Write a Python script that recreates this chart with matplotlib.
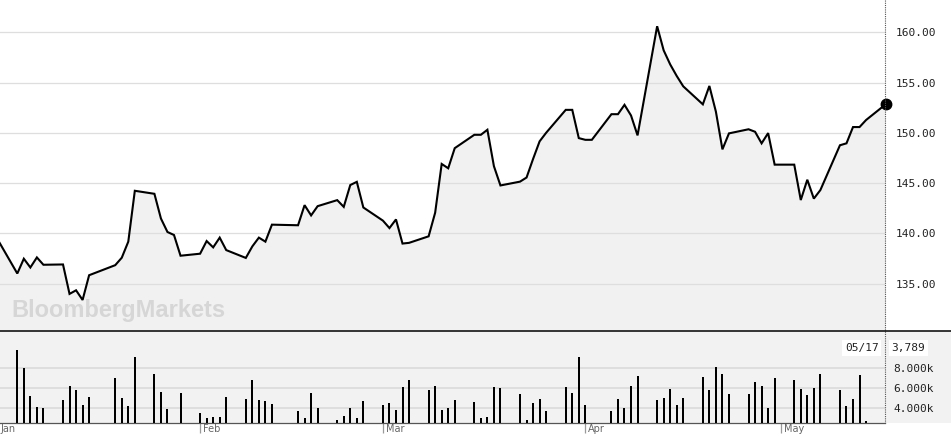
import matplotlib
matplotlib.use("Agg")
import matplotlib.pyplot as plt
import matplotlib.dates as mdates
import matplotlib.transforms as mtransforms
from matplotlib.lines import Line2D
from matplotlib.patches import Rectangle
import numpy as np

# ---------------- data ----------------
dates = [
    "2020-12-31",
    "2021-01-04", "2021-01-05", "2021-01-06", "2021-01-07", "2021-01-08",
    "2021-01-11", "2021-01-12", "2021-01-13", "2021-01-14", "2021-01-15",
    "2021-01-19", "2021-01-20", "2021-01-21", "2021-01-22",
    "2021-01-25", "2021-01-26", "2021-01-27", "2021-01-28", "2021-01-29",
    "2021-02-01", "2021-02-02", "2021-02-03", "2021-02-04", "2021-02-05",
    "2021-02-08", "2021-02-09", "2021-02-10", "2021-02-11", "2021-02-12",
    "2021-02-16", "2021-02-17", "2021-02-18", "2021-02-19",
    "2021-02-22", "2021-02-23", "2021-02-24", "2021-02-25", "2021-02-26",
    "2021-03-01", "2021-03-02", "2021-03-03", "2021-03-04", "2021-03-05",
    "2021-03-08", "2021-03-09", "2021-03-10", "2021-03-11", "2021-03-12",
    "2021-03-15", "2021-03-16", "2021-03-17", "2021-03-18", "2021-03-19",
    "2021-03-22", "2021-03-23", "2021-03-24", "2021-03-25", "2021-03-26",
    "2021-03-29", "2021-03-30", "2021-03-31", "2021-04-01", "2021-04-02",
    "2021-04-05", "2021-04-06", "2021-04-07", "2021-04-08", "2021-04-09",
    "2021-04-12", "2021-04-13", "2021-04-14", "2021-04-15", "2021-04-16",
    "2021-04-19", "2021-04-20", "2021-04-21", "2021-04-22", "2021-04-23",
    "2021-04-26", "2021-04-27", "2021-04-28", "2021-04-29", "2021-04-30",
    "2021-05-03", "2021-05-04", "2021-05-05", "2021-05-06", "2021-05-07",
    "2021-05-10", "2021-05-11", "2021-05-12", "2021-05-13", "2021-05-14",
    "2021-05-17",
]

prices = [
    140.5,
    136.00, 137.47, 136.60, 137.60, 136.87,
    136.90, 133.97, 134.33, 133.37, 135.83,
    136.83, 137.57, 139.17, 144.23,
    143.93, 141.47, 140.13, 139.83, 137.77,
    137.97, 139.23, 138.60, 139.57, 138.33,
    137.55, 138.70, 139.57, 139.17, 140.86,
    140.80, 142.80, 141.78, 142.70,
    143.30, 142.63, 144.80, 145.12, 142.57,
    141.26, 140.52, 141.38, 138.98, 139.05,
    139.70, 142.05, 146.90, 146.47, 148.47,
    149.80, 149.80, 150.30, 146.68, 144.76,
    145.14, 145.55, 147.40, 149.15, 150.00,
    152.28, 152.28, 149.47, 149.30, 149.30,
    151.85, 151.85, 152.78, 151.72, 149.74,
    160.60, 158.20, 156.80, 155.65, 154.62,
    152.83, 154.66, 152.10, 148.35, 149.94,
    150.35, 150.10, 148.95, 149.97, 146.83,
    146.83, 143.31, 145.33, 143.45, 144.30,
    148.76, 148.95, 150.57, 150.57, 151.27,
    152.83,
]

nan = float("nan")
volumes = [
    nan,
    9740, 7930, 5180, 4160, 4030,
    4820, 6200, 5840, 4300, 5110,
    7020, 5020, 4200, 9020,
    7410, 5640, 3900, nan, 5510,
    3540, 3080, 3110, 3110, 5080,
    4890, 6790, 4790, 4750, 4460,
    3740, 3020, 5480, 4000,
    2850, 3210, 4030, 3050, 4720,
    4330, 4490, 3840, 6070, 6750,
    5770, 6200, 3840, 4000, 4790,
    4590, 3080, 3150, 6070, 6000,
    5410, 2850, 4490, 4890, 3740,
    6130, 5480, 9050, 4330, nan,
    3770, 4890, 4000, 6160, 7150,
    4790, 5020, 5900, 4330, 4980,
    7110, 5840, 8100, 7410, 5410,
    5380, 6620, 6230, 4000, 6950,
    6750, 5930, 5310, 5970, 7340,
    5800, 4260, 4920, 7280, 2790,
    3789,
]

month_starts = ["2021-01-01", "2021-02-01", "2021-03-01", "2021-04-01", "2021-05-01"]
month_labels = ["Jan", "Feb", "Mar", "Apr", "May"]
price_ticks = [135, 140, 145, 150, 155, 160]
volume_ticks = [4000, 6000, 8000]

# ---------------- figure ----------------
W, H = 951, 436
DPI = 100
fig = plt.figure(figsize=(W / DPI, H / DPI), dpi=DPI)
fig.patch.set_facecolor("white")

def fx(px):
    return px / W

def fy(py):
    return 1 - py / H

plot_right = 885
price_bottom = 330
vol_top, vol_bottom = 331, 422.7

ax_p = fig.add_axes([0, fy(price_bottom), fx(plot_right), price_bottom / H])
ax_v = fig.add_axes([0, fy(vol_bottom), fx(plot_right), (vol_bottom - vol_top) / H])

x = mdates.datestr2num(dates)
xm = mdates.datestr2num(month_starts)
xl = (x[1] - 2.65, x[-1] - 0.1)

# volume panel background across full width
fig.add_artist(Rectangle((0, fy(vol_bottom)), 1, (vol_bottom - vol_top) / H,
                         transform=fig.transFigure, facecolor="#f2f2f2",
                         edgecolor="none", zorder=-5))

# ---- price panel ----
p_lo, p_hi = 130.38, 163.21
ax_p.set_xlim(*xl)
ax_p.set_ylim(p_lo, p_hi)
ax_p.set_facecolor("white")
ax_p.fill_between(x, prices, p_lo, color="#f1f1f1", lw=0, zorder=1)
for t in price_ticks:
    ax_p.axhline(t, color="#dedede", lw=0.9, zorder=2)
ax_p.plot(x, prices, color="black", lw=1.5, zorder=4, solid_joinstyle="miter")
ax_p.plot([x[-1]], [prices[-1]], "o", color="black", ms=7.5, zorder=5, clip_on=False)
ax_p.text(0.0125, 0.038, "BloombergMarkets", transform=ax_p.transAxes,
          fontsize=17, fontweight="bold", family="Liberation Sans",
          color="#d6d6d6", ha="left", va="baseline", zorder=3)
for s in ax_p.spines.values():
    s.set_visible(False)
ax_p.set_xticks([])
ax_p.yaxis.tick_right()
ax_p.set_yticks(price_ticks)
ax_p.set_yticklabels([f"{t:.2f}" for t in price_ticks])
ax_p.tick_params(axis="y", length=0, pad=8, labelsize=8, labelcolor="#222222")
for lab in ax_p.get_yticklabels():
    lab.set_family("DejaVu Sans Mono")

# ---- volume panel ----
v_lo, v_hi = 2581, 11616
ax_v.set_xlim(*xl)
ax_v.set_ylim(v_lo, v_hi)
ax_v.set_facecolor("#f2f2f2")
for t in volume_ticks:
    ax_v.axhline(t, color="#dcdcdc", lw=1.3, zorder=1)
ax_v.vlines(x, 0, volumes, colors="black", linewidth=1.44, antialiased=False, zorder=3)
for name, s in ax_v.spines.items():
    s.set_visible(name == "bottom")
ax_v.spines["bottom"].set_color("#555555")
ax_v.spines["bottom"].set_linewidth(0.9)
ax_v.yaxis.tick_right()
ax_v.set_yticks(volume_ticks)
ax_v.set_yticklabels([f"{t/1000:.3f}k" for t in volume_ticks])
ax_v.tick_params(axis="y", length=0, pad=6, labelsize=8, labelcolor="#222222")
for lab in ax_v.get_yticklabels():
    lab.set_family("DejaVu Sans Mono")
ax_v.set_xticks(xm[xm > xl[0]])
ax_v.set_xticklabels([])
ax_v.tick_params(axis="x", direction="out", length=7, width=0.9, color="#9a9a9a")

lab_tr = mtransforms.offset_copy(ax_v.get_xaxis_transform(), fig=fig, x=3, y=-9.5, units="dots")
for m, lab in zip(xm, month_labels):
    ax_v.text(m, 0, lab, transform=lab_tr, fontsize=7, color="#666666",
              ha="left", va="baseline", clip_on=False)

# last value boxes
last_date = mdates.num2date(x[-1]).strftime("%m/%d")
last_vol = f"{int(volumes[-1]):,}"
box_tr_l = mtransforms.offset_copy(ax_v.get_xaxis_transform(), fig=fig, x=-7, y=0, units="dots")
box_tr_r = mtransforms.offset_copy(ax_v.get_xaxis_transform(), fig=fig, x=6, y=0, units="dots")
ax_v.text(x[-1], 0.815, last_date, transform=box_tr_l, fontsize=8, family="DejaVu Sans Mono",
          color="#222222", ha="right", va="center", clip_on=False, zorder=6,
          bbox=dict(boxstyle="square,pad=0.25", facecolor="white", edgecolor="none"))
ax_v.text(x[-1], 0.815, last_vol, transform=box_tr_r, fontsize=8, family="DejaVu Sans Mono",
          color="#222222", ha="left", va="center", clip_on=False, zorder=6,
          bbox=dict(boxstyle="square,pad=0.25", facecolor="white", edgecolor="none"))

# separator line and dotted cursor line
fig.add_artist(Line2D([0, 1], [fy(330.5), fy(330.5)], transform=fig.transFigure,
                      color="black", lw=1.1, zorder=10))
fig.add_artist(Line2D([fx(plot_right), fx(plot_right)], [1, fy(vol_bottom)],
                      transform=fig.transFigure, color="#555555", lw=0.8,
                      linestyle=(0, (1, 1)), zorder=9))

fig.savefig("out.png", dpi=DPI)
